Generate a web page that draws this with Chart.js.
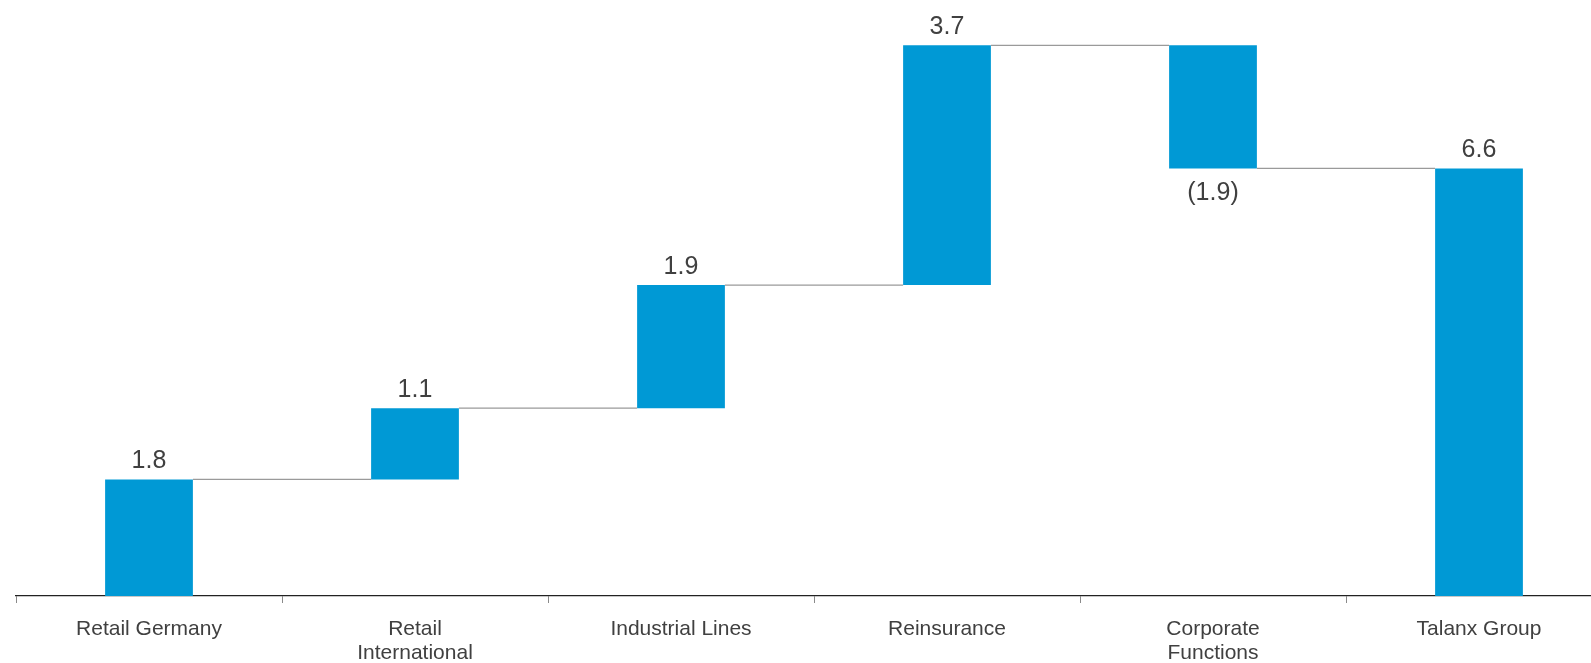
<!DOCTYPE html>
<html>
<head>
<meta charset="utf-8">
<script src="https://cdn.jsdelivr.net/npm/chart.js@4/dist/chart.umd.min.js"></script>
<style>
  html, body { margin: 0; padding: 0; background: #fff; overflow: hidden; }
  /* the last category runs a little past the right edge of the page */
  #wrap { width: 1612px; height: 663px; }
</style>
</head>
<body>
<div id="wrap"><canvas id="bridgeChart"></canvas></div>
<script>
// Segment contributions, last entry is the group total
const categories = [['Retail Germany'], ['Retail', 'International'], ['Industrial Lines'], ['Reinsurance'], ['Corporate', 'Functions'], ['Talanx Group']];
const values = [1.8, 1.1, 1.9, 3.7, -1.9, 6.6];
const isTotal = [false, false, false, false, false, true];

// Floating bars: each step starts where the previous one ended
const floating = [];
let running = 0;
values.forEach((v, i) => {
    if (isTotal[i]) {
        floating.push([0, v]);
        running = v;
    } else {
        floating.push([running, running + v]);
        running += v;
    }
});

const fmt = v => v < 0 ? '(' + Math.abs(v).toFixed(1) + ')' : v.toFixed(1);

// Thin connectors between neighbouring bars and the value labels
const bridgePlugin = {
    id: 'bridge',
    afterDatasetsDraw(chart) {
        const ctx = chart.ctx;
        const meta = chart.getDatasetMeta(0);
        const y = chart.scales.y;
        ctx.save();
        ctx.strokeStyle = '#9a9a9a';
        ctx.lineWidth = 1.2;
        for (let i = 0; i < meta.data.length - 1; i++) {
            const a = meta.data[i], b = meta.data[i + 1];
            const level = y.getPixelForValue(floating[i][1]);
            ctx.beginPath();
            ctx.moveTo(a.x + a.width / 2, level);
            ctx.lineTo(b.x - b.width / 2, level);
            ctx.stroke();
        }
        ctx.fillStyle = '#404040';
        ctx.font = '25px "Liberation Sans", Arial, sans-serif';
        ctx.textAlign = 'center';
        meta.data.forEach((bar, i) => {
            const v = values[i];
            if (v < 0) {
                ctx.textBaseline = 'top';
                ctx.fillText(fmt(v), bar.x, y.getPixelForValue(floating[i][1]) + 12);
            } else {
                ctx.textBaseline = 'alphabetic';
                ctx.fillText(fmt(v), bar.x, y.getPixelForValue(floating[i][1]) - 11);
            }
        });
        ctx.restore();
    }
};

const ctx = document.getElementById('bridgeChart').getContext('2d');
new Chart(ctx, {
    type: 'bar',
    data: {
        labels: categories,
        datasets: [{
            data: floating,
            backgroundColor: '#0099d5',
            borderWidth: 0,
            barPercentage: 0.33,
            categoryPercentage: 1.0
        }]
    },
    options: {
        responsive: true,
        maintainAspectRatio: false,
        animation: false,
        layout: { padding: { left: 16, right: 0, top: 0, bottom: 0 } },
        plugins: {
            legend: { display: false },
            tooltip: { enabled: false }
        },
        scales: {
            y: {
                display: false,
                min: 0,
                max: 9.2
            },
            x: {
                afterFit: scale => { scale.height = 67; },
                grid: {
                    drawOnChartArea: false,
                    offset: true,
                    tickLength: 7,
                    color: '#8a8a8a'
                },
                border: { color: '#222', width: 1.3 },
                ticks: {
                    color: '#404040',
                    padding: 14,
                    maxRotation: 0,
                    autoSkip: false,
                    font: { family: '"Liberation Sans", Arial, sans-serif', size: 21, lineHeight: 1.15 }
                }
            }
        }
    },
    plugins: [bridgePlugin]
});
</script>
</body>
</html>
